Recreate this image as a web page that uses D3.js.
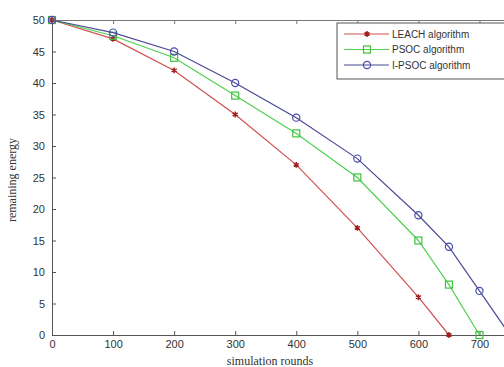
<!DOCTYPE html>
<html>
<head>
<meta charset="utf-8">
<script src="https://cdn.jsdelivr.net/npm/d3@7"></script>
<style>
body { margin: 0; background: #fff; }
svg { display: block; }
.tick text { font-family: Arial, "Liberation Sans", sans-serif; font-size: 11px; fill: #333; }
.lbl { font-family: "Liberation Serif", "Times New Roman", serif; font-size: 12px; fill: #333; }
.leg { font-family: Arial, "Liberation Sans", sans-serif; font-size: 10px; fill: #333; }
</style>
</head>
<body>
<script>
var w = 504,
h = 367,
plotLeft = 52, plotTop = 20,
plotRight = 510, plotBottom = 335;

// data
var leachRounds = [0, 100, 200, 300, 400, 500, 600, 650];
var leachEnergy = [50, 47, 42, 35, 27, 17, 6, 0];
var psocRounds = [0, 100, 200, 300, 400, 500, 600, 650, 700];
var psocEnergy = [50, 47.5, 44, 38, 32, 25, 15, 8, 0];
var ipsocRounds = [0, 100, 200, 300, 400, 500, 600, 650, 700, 750];
var ipsocEnergy = [50, 48, 45, 40, 34.5, 28, 19, 14, 7, 0];
var xTicks = [0, 100, 200, 300, 400, 500, 600, 700];
var yTicks = [0, 5, 10, 15, 20, 25, 30, 35, 40, 45, 50];
var seriesNames = ["LEACH algorithm", "PSOC algorithm", "I-PSOC algorithm"];

var series = [
  {name: seriesNames[0], x: leachRounds, y: leachEnergy, color: "#d05050", mark: "#a02020", shape: "star"},
  {name: seriesNames[1], x: psocRounds, y: psocEnergy, color: "#50d050", mark: "#40c040", shape: "square"},
  {name: seriesNames[2], x: ipsocRounds, y: ipsocEnergy, color: "#4a4a98", mark: "#4a4ab0", shape: "circle"}
];

var svg = d3.select("body").append("svg")
  .attr("width", w)
  .attr("height", h);

var x = d3.scaleLinear().domain([0, 750]).range([plotLeft, plotRight]);
var y = d3.scaleLinear().domain([0, 50]).range([plotBottom, plotTop]);

// axes (MATLAB style inward ticks)
svg.append("g")
  .attr("transform", "translate(0," + plotBottom + ")")
  .call(d3.axisBottom(x).tickValues(xTicks).tickSizeInner(-4).tickSizeOuter(0).tickPadding(5))
  .call(function(g) { g.select(".domain").attr("stroke", "#555"); g.selectAll(".tick line").attr("stroke", "#555"); });

svg.append("g")
  .attr("transform", "translate(0," + plotTop + ")")
  .call(d3.axisTop(x).tickValues(xTicks).tickSizeInner(-4).tickSizeOuter(0).tickFormat(""))
  .call(function(g) { g.select(".domain").attr("stroke", "#777"); g.selectAll(".tick line").attr("stroke", "#777"); });

svg.append("g")
  .attr("transform", "translate(" + plotLeft + ",0)")
  .call(d3.axisLeft(y).tickValues(yTicks).tickSizeInner(-4).tickSizeOuter(0).tickPadding(7))
  .call(function(g) { g.select(".domain").attr("stroke", "#555"); g.selectAll(".tick line").attr("stroke", "#555"); });

// lines
var line = d3.line();
series.forEach(function(s) {
  var pts = s.x.map(function(v, i) { return [x(v), y(s.y[i])]; });
  svg.append("path")
    .attr("d", line(pts))
    .attr("fill", "none")
    .attr("stroke", s.color)
    .attr("stroke-width", 1.2);
  pts.forEach(function(p) { drawMarker(svg, s, p[0], p[1]); });
});

function drawMarker(g, s, px, py) {
  if (s.shape === "square") {
    g.append("rect").attr("x", px - 3.5).attr("y", py - 3.5).attr("width", 7).attr("height", 7)
      .attr("fill", "none").attr("stroke", s.mark).attr("stroke-width", 1.2);
  } else if (s.shape === "circle") {
    g.append("circle").attr("cx", px).attr("cy", py).attr("r", 3.6)
      .attr("fill", "none").attr("stroke", s.mark).attr("stroke-width", 1.2);
  } else {
    g.append("path").attr("d", d3.symbol().type(d3.symbolAsterisk).size(24)())
      .attr("transform", "translate(" + px + "," + py + ")")
      .attr("fill", "none").attr("stroke", s.mark).attr("stroke-width", 1.5);
  }
}

// legend
var lg = svg.append("g");
lg.append("rect").attr("x", 337).attr("y", 23).attr("width", 180).attr("height", 56)
  .attr("fill", "#fff").attr("stroke", "#555").attr("stroke-width", 1);
series.forEach(function(s, i) {
  var ly = 34 + i * 15.5;
  lg.append("line").attr("x1", 344).attr("x2", 389).attr("y1", ly).attr("y2", ly)
    .attr("stroke", s.color).attr("stroke-width", 1.2);
  drawMarker(lg, s, 367, ly);
  lg.append("text").attr("class", "leg").attr("x", 392).attr("y", ly).attr("dy", "0.35em").text(s.name);
});

// axis labels
svg.append("text").attr("class", "lbl")
  .attr("x", 270).attr("y", 365).attr("text-anchor", "middle")
  .text("simulation rounds");
svg.append("text").attr("class", "lbl")
  .attr("transform", "translate(16," + 180 + ") rotate(-90)")
  .attr("text-anchor", "middle")
  .text("remaining energy");
</script>
</body>
</html>
